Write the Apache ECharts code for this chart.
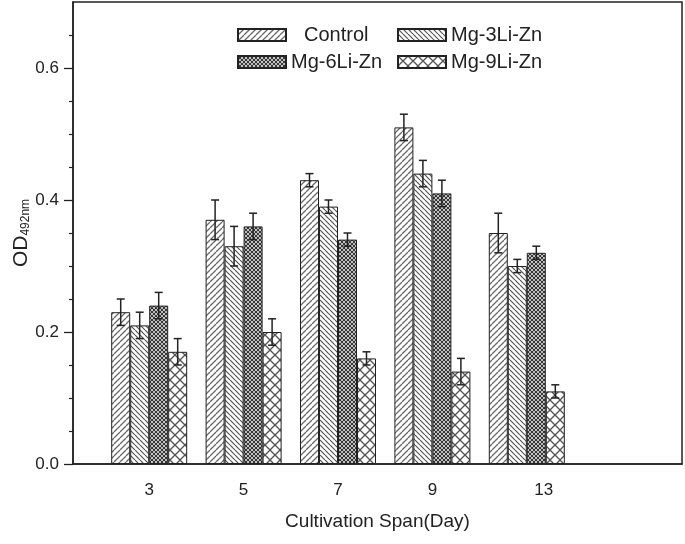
<!DOCTYPE html>
<html>
<head>
<meta charset="utf-8">
<script src="https://cdn.jsdelivr.net/npm/echarts@6/dist/echarts.min.js"></script>
<style>html,body{margin:0;padding:0;background:#fff}#c{width:685px;height:544px}</style>
</head>
<body>
<div id="c"></div>
<script>
const categories = ['3', '5', '7', '9', '13'];
const seriesNames = ['Control', 'Mg-3Li-Zn', 'Mg-6Li-Zn', 'Mg-9Li-Zn'];
const control   = [0.23, 0.37, 0.43, 0.51, 0.35];
const mg3       = [0.21, 0.33, 0.39, 0.44, 0.30];
const mg6       = [0.24, 0.36, 0.34, 0.41, 0.32];
const mg9       = [0.17, 0.20, 0.16, 0.14, 0.11];
const controlErr = [0.02, 0.03, 0.01, 0.02, 0.03];
const mg3Err     = [0.02, 0.03, 0.01, 0.02, 0.01];
const mg6Err     = [0.02, 0.02, 0.01, 0.02, 0.01];
const mg9Err     = [0.02, 0.02, 0.01, 0.02, 0.01];
const yMajorTicks = [0, 0.2, 0.4, 0.6];
const yMinorTicks = [0.05, 0.1, 0.15, 0.25, 0.3, 0.35, 0.45, 0.5, 0.55, 0.65];

const values = [control, mg3, mg6, mg9];
const errors = [controlErr, mg3Err, mg6Err, mg9Err];

function hatch(size, dirs, color, lw) {
  const c = document.createElement('canvas');
  c.width = c.height = size;
  const g = c.getContext('2d');
  g.fillStyle = '#fff';
  g.fillRect(0, 0, size, size);
  g.strokeStyle = color;
  g.lineWidth = lw;
  dirs.forEach(d => {
    [-size, 0, size].forEach(o => {
      g.beginPath();
      if (d === '/') { g.moveTo(o, size); g.lineTo(o + size, 0); }
      else { g.moveTo(o, 0); g.lineTo(o + size, size); }
      g.stroke();
    });
  });
  return { image: c, repeat: 'repeat' };
}
const patterns = [
  hatch(6, ['/'], '#6a6a6a', 1.3),
  hatch(5, ['\\'], '#555', 1.2),
  hatch(4, ['/', '\\'], '#333', 1.2),
  hatch(10, ['/', '\\'], '#555', 1.3)
];

const BAR_W = 19;
const FONT = 'Liberation Sans, Arial, sans-serif';

const barSeries = seriesNames.map((n, k) => ({
  name: n, type: 'bar', xAxisIndex: 1, yAxisIndex: 2,
  barWidth: BAR_W, barGap: '0%',
  itemStyle: { color: patterns[k], borderColor: '#222', borderWidth: 1 },
  data: values[k], z: 2
}));

const errSeries = seriesNames.map((n, k) => ({
  name: n + ' err', type: 'custom', xAxisIndex: 1, yAxisIndex: 2, z: 5,
  data: values[k].map((v, i) => [i, v, errors[k][i]]),
  renderItem: function (params, api) {
    const x = api.value(0), y = api.value(1), e = api.value(2);
    const off = (k - 1.5) * BAR_W;
    const top = api.coord([x, y + e]);
    const bot = api.coord([x, y - e]);
    const cx = top[0] + off, h = 4;
    const st = { stroke: '#222', lineWidth: 1.5 };
    return { type: 'group', children: [
      { type: 'line', shape: { x1: cx, y1: top[1], x2: cx, y2: bot[1] }, style: st },
      { type: 'line', shape: { x1: cx - h, y1: top[1], x2: cx + h, y2: top[1] }, style: st },
      { type: 'line', shape: { x1: cx - h, y1: bot[1], x2: cx + h, y2: bot[1] }, style: st }
    ]};
  }
}));

const legendPos = [[237, 25, 13], [397, 25, 0], [237, 52, 0], [397, 52, 0]];
const legends = seriesNames.map((n, k) => ({
  data: [n], left: legendPos[k][0], top: legendPos[k][1], padding: 0,
  itemWidth: 48, itemHeight: 12, selectedMode: false, icon: 'rect',
  textStyle: { fontSize: 20, fontFamily: FONT, color: '#222', padding: [0, 0, 0, legendPos[k][2]] }
}));

const chart = echarts.init(document.getElementById('c'));
chart.setOption({
  animation: false,
  backgroundColor: '#fff',
  textStyle: { fontFamily: FONT },
  legend: legends,
  grid: [
    { left: 73, right: 3, top: 2, bottom: 80, show: true, borderColor: '#222', borderWidth: 1.5, backgroundColor: 'transparent', containLabel: false, outerBoundsMode: 'none' },
    { left: 102, right: 111, top: 2, bottom: 80, containLabel: false, outerBoundsMode: 'none' }
  ],
  xAxis: [
    { type: 'value', gridIndex: 0, min: 0, max: 1, axisLabel: { show: false }, axisTick: { show: false },
      splitLine: { show: false }, axisLine: { lineStyle: { color: '#222', width: 1.5 } },
      name: 'Cultivation Span(Day)', nameLocation: 'middle', nameGap: 48,
      nameTextStyle: { fontSize: 19, color: '#222', fontFamily: FONT } },
    { type: 'category', gridIndex: 1, data: categories, axisLine: { show: false }, axisTick: { show: false },
      axisLabel: { fontSize: 17, color: '#222', margin: 18, fontFamily: FONT,
        formatter: v => v === '13' ? '{s|' + v + '}' : v,
        rich: { s: { fontSize: 17, color: '#222', padding: [0, 0, 0, 34], fontFamily: FONT } } } }
  ],
  yAxis: [
    { type: 'value', gridIndex: 0, position: 'left', min: 0, max: 0.7, splitLine: { show: false },
      axisLine: { show: true, lineStyle: { color: '#222', width: 1.5 } },
      axisTick: { show: true, inside: false, length: 9, lineStyle: { color: '#222', width: 1.3 }, customValues: yMajorTicks },
      axisLabel: { fontSize: 17, color: '#222', margin: 14, fontFamily: FONT, customValues: yMajorTicks, formatter: v => v.toFixed(1) },
      name: '{a|OD}{b|492nm}', nameLocation: 'middle', nameGap: 41, nameMoveOverlap: false,
      nameTextStyle: { color: '#222', rich: {
        a: { fontSize: 21, color: '#222', fontFamily: FONT },
        b: { fontSize: 12, color: '#222', fontFamily: FONT, verticalAlign: 'bottom' } } } },
    { type: 'value', gridIndex: 0, position: 'left', offset: 0, min: 0, max: 0.7, splitLine: { show: false },
      axisLine: { show: false }, axisLabel: { show: false },
      axisTick: { show: true, inside: false, length: 4, lineStyle: { color: '#222', width: 1.2 }, customValues: yMinorTicks } },
    { type: 'value', gridIndex: 1, min: 0, max: 0.7, show: false }
  ],
  series: barSeries.concat(errSeries)
});
</script>
</body>
</html>
